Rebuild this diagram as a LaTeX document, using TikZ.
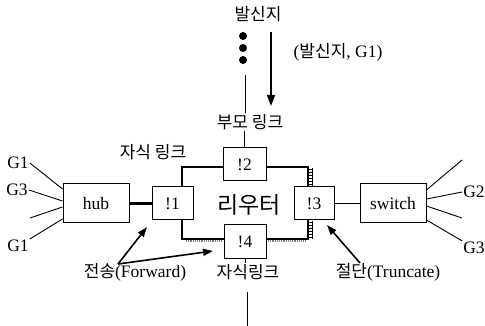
\documentclass[tikz,border=0pt]{standalone}
\usepackage{fontspec}
\setmainfont{Liberation Serif}
\newfontfamily\kr{Noto Sans CJK KR}
\usetikzlibrary{arrows.meta,calc}
\newcommand\latf{\rmfamily\fontsize{17.5}{20}\selectfont}
\newcommand\krf{\kr\fontsize{17}{20}\selectfont}
\begin{document}
\begin{tikzpicture}[x=1pt,y=-1pt,
  box/.style={draw, line width=1pt, fill=white, inner sep=0pt, font=\latf},
  lbl/.style={inner sep=1pt, font=\krf},
  glbl/.style={inner sep=1pt, font=\latf},
  dot/.style={circle, fill=black, inner sep=0pt, minimum size=8pt},
  arr/.style={line width=1.6pt, -{Triangle[length=10pt,width=7pt]}},
  thinl/.style={line width=0.9pt}]
\useasboundingbox (0,0) rectangle (485,326);
% router
\node[draw, line width=1.5pt, fill=white, minimum width=126pt, minimum height=72pt, inner sep=0pt] (router) at (245,203) {};
% hatch marks
\foreach \y in {169,172,...,186} \draw[line width=0.5pt] (308,\y) -- (312,\y);
\foreach \y in {222,225,...,238} \draw[line width=0.5pt] (308,\y) -- (312,\y);
\draw[line width=0.5pt] (312,168) -- (312,186);
\draw[line width=0.5pt] (312,221) -- (312,239);
\draw[gray, densely dotted, line width=1.2pt] (186,241) -- (222,241);
\draw[gray, densely dotted, line width=1.2pt] (268,241) -- (306,241);
\node[font=\kr\fontsize{23}{26}\selectfont, inner sep=0pt] (rt) at (249,205) {리우터};
% interfaces
\node[box, minimum width=41pt, minimum height=33pt] (i1) at (172.5,203.5) {!1};
\node[box, minimum width=43pt, minimum height=33pt] (i2) at (244.5,164.5) {!2};
\node[box, minimum width=40pt, minimum height=33pt] (i3) at (314,203.5) {!3};
\node[box, minimum width=42pt, minimum height=33pt] (i4) at (245,241.5) {!4};
% hub and switch
\node[box, minimum width=66pt, minimum height=39pt] (hub) at (96,203.5) {hub};
\node[box, minimum width=66pt, minimum height=39pt] (sw) at (393,203.5) {switch};
\draw[line width=2.5pt] (hub) -- (i1);
\draw[thinl] (i3) -- (sw);
% left group labels and lines
\node[glbl] (gl1) at (18,163) {G1};
\node[glbl] (gl3) at (17,190) {G3};
\node[glbl] (gl4) at (18,246) {G1};
\coordinate (gl2) at (30,218);
\draw[thinl] (gl1.east) -- ($(hub.west)+(0,-14.5)$);
\draw[thinl] (gl3.east) -- ($(hub.west)+(0,-2.5)$);
\draw[thinl] (gl2) -- ($(hub.west)+(0,3.5)$);
\draw[thinl] (gl4.north east) -- ($(hub.west)+(0,15.5)$);
% right group labels and lines
\node[glbl] (gr2) at (474,192) {G2};
\node[glbl] (gr3) at (474,248) {G3};
\coordinate (gr1) at (462,160);
\coordinate (gr4) at (462,218);
\draw[thinl] ($(sw.east)+(0,-13.5)$) -- (gr1);
\draw[thinl] ($(sw.east)+(0,-4.5)$) -- (gr2.west);
\draw[thinl] ($(sw.east)+(0,2.5)$) -- (gr4);
\draw[thinl] ($(sw.east)+(0,16.5)$) -- (gr3.north west);
% top
\node[lbl] (src) at (258,14) {발신지};
\node[dot] (d1) at (243,36) {};
\node[dot] (d2) at (243,48) {};
\node[dot] (d3) at (243,60) {};
\node[lbl] (par) at (250,122) {부모 링크};
\coordinate (ptop) at (245,75);
\draw[thinl] (ptop) -- (ptop |- par.north);
\draw[thinl] (i2.north) -- (i2.north |- par.south);
\coordinate (atop) at (271,32);
\coordinate (abot) at (271,106);
\draw[line width=1.4pt, -{Triangle[length=11pt,width=8pt]}] (atop) -- (abot);
\node[lbl] (pkt) at (338,52) {{\latf(}{\krf 발신지}{\latf, G1)}};
\node[lbl] (chl) at (153,152) {자식 링크};
% bottom
\node[lbl] (ch) at (248,272) {자식링크};
\draw[thinl] (i4.south) -- (i4.south |- ch.north);
\coordinate (bs) at (247,292);
\coordinate (be) at (247,326);
\draw[thinl] (bs) -- (be);
\node[lbl] (fwd) at (135,272) {전송{\latf(Forward)}};
\coordinate (ft) at (118,264);
\coordinate (fh1) at (147,227);
\coordinate (fh2) at (213,251);
\draw[arr] (ft) -- (fh1);
\draw[arr] (ft) -- (fh2);
\node[lbl] (trc) at (388,272) {절단{\latf(Truncate)}};
\coordinate (tt) at (360,263);
\coordinate (th) at (327,225);
\draw[arr] (tt) -- (th);
\end{tikzpicture}
\end{document}
